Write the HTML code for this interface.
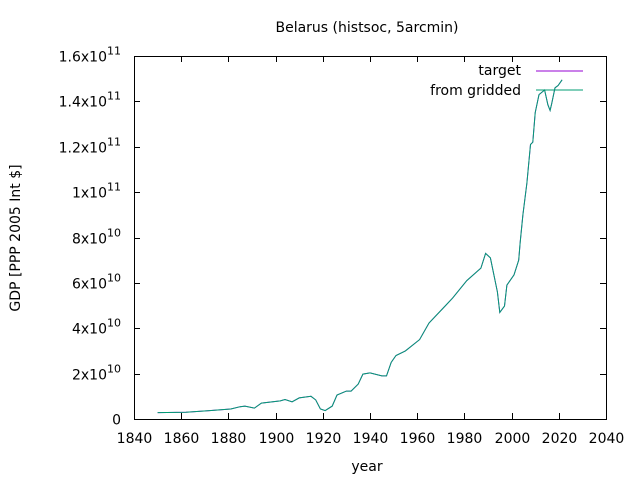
<!DOCTYPE html>
<html><head><meta charset="utf-8"><style>
body{margin:0;background:#fff;}
svg{display:block;font-family:"DejaVu Sans","Liberation Sans",sans-serif;}
</style></head><body>
<svg id="chart" width="640" height="480">
<text x="367" y="32" text-anchor="middle" font-size="14">Belarus (histsoc, 5arcmin)</text>
<text x="367" y="471" text-anchor="middle" font-size="14">year</text>
<text transform="translate(20,238) rotate(-90)" text-anchor="middle" font-size="14">GDP [PPP 2005 Int $]</text>
<g id="axes"></g>
<g id="series"></g>
<g>
<text x="521" y="75" text-anchor="end" font-size="14">target</text>
<line x1="536" y1="71" x2="583" y2="71" stroke="#9400d3" stroke-width="1"/>
<text x="521" y="95" text-anchor="end" font-size="14">from gridded</text>
<line x1="536" y1="90" x2="583" y2="90" stroke="#009e73" stroke-width="1"/>
</g>
</svg>
<script>
const years=[1850,1862,1872,1881,1885,1887,1891,1894,1902,1904,1907,1910,1915,1917,1919,1921,1924,1926,1930,1932,1935,1937,1940,1945,1947,1949,1951,1955,1961,1965,1972,1975,1981,1987,1989,1991,1994,1995,1997,1998,2001,2003,2003.6,2004.8,2006.5,2008,2009,2010,2011.6,2014,2015.4,2016.3,2017,2018.4,2019.7,2021.4];
const gdpTarget=[0.28,0.3,0.37,0.44,0.54,0.57,0.48,0.7,0.8,0.86,0.76,0.93,1.0,0.84,0.44,0.37,0.57,1.06,1.23,1.23,1.54,1.98,2.03,1.9,1.9,2.5,2.8,3.0,3.5,4.23,5.0,5.33,6.1,6.65,7.3,7.1,5.6,4.7,4.98,5.9,6.35,7.0,7.75,9.0,10.4,12.1,12.2,13.5,14.3,14.5,13.85,13.6,13.9,14.6,14.7,14.95];
const gdpGridded=[0.28,0.3,0.37,0.44,0.54,0.57,0.48,0.7,0.8,0.86,0.76,0.93,1.0,0.84,0.44,0.37,0.57,1.06,1.23,1.23,1.54,1.98,2.03,1.9,1.9,2.5,2.8,3.0,3.5,4.23,5.0,5.33,6.1,6.65,7.3,7.1,5.6,4.7,4.98,5.9,6.35,7.0,7.75,9.0,10.4,12.1,12.2,13.5,14.3,14.5,13.85,13.6,13.9,14.6,14.7,14.95];
const xTicks=[1840,1860,1880,1900,1920,1940,1960,1980,2000,2020,2040];
const yTicks=[0,2,4,6,8,10,12,14,16];
const yMant=["0","2","4","6","8","1","1.2","1.4","1.6"];
const yExp=["","10","10","10","10","11","11","11","11"];
const L=134,R=606,T=56,B=419;
const sx=y=>L+(y-1840)/200*(R-L);
const sy=v=>B-v/16*(B-T);
const NS="http://www.w3.org/2000/svg";
const ax=document.getElementById('axes');
function mk(t,a,p){const e=document.createElementNS(NS,t);for(const k in a)e.setAttribute(k,a[k]);p.appendChild(e);return e;}
const box=mk('rect',{x:L+0.5,y:T+0.5,width:R-L,height:B-T,fill:'none',stroke:'#000'},ax);


xTicks.forEach(t=>{const x=Math.round(sx(t))+0.5;
mk('line',{x1:x,y1:B,x2:x,y2:B-6,stroke:'#000'},ax);
mk('line',{x1:x,y1:T,x2:x,y2:T+6,stroke:'#000'},ax);
const tx=mk('text',{x:x,y:443,'text-anchor':'middle','font-size':14},ax);tx.textContent=t;

});
yTicks.forEach((t,i)=>{const y=Math.round(sy(t))+0.5;
mk('line',{x1:L,y1:y,x2:L+6,y2:y,stroke:'#000'},ax);
mk('line',{x1:R,y1:y,x2:R-6,y2:y,stroke:'#000'},ax);
const tx=mk('text',{x:121,y:y+5,'text-anchor':'end','font-size':14},ax);


if(yExp[i]){tx.appendChild(document.createTextNode(yMant[i]+"x10"));
const s=document.createElementNS(NS,'tspan');s.setAttribute('dy','-7');s.setAttribute('font-size','11');s.textContent=yExp[i];tx.appendChild(s);}
else tx.textContent=yMant[i];});
const sg=document.getElementById('series');
function line(vals,color,name){const d=vals.map((v,i)=>(i?'L':'M')+sx(years[i]).toFixed(1)+' '+sy(v).toFixed(1)).join(' ');
const p=mk('path',{d:d,fill:'none',stroke:color,'stroke-width':1},sg);

}
line(gdpTarget,'#9400d3','target-line');
line(gdpGridded,'#009e73','gridded-line');
</script>
</body></html>
